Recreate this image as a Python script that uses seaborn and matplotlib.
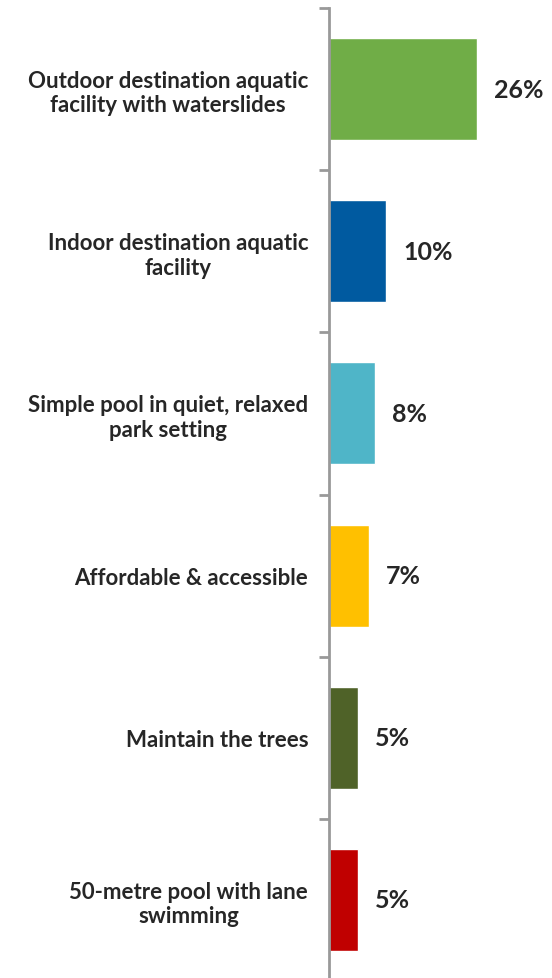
import matplotlib.pyplot as plt
import seaborn as sns
import pandas as pd

categories = [
    "Outdoor destination aquatic\nfacility with waterslides",
    "Indoor destination aquatic\nfacility",
    "Simple pool in quiet, relaxed\npark setting",
    "Affordable & accessible",
    "Maintain the trees",
    "50-metre pool with lane\nswimming",
]
values = [26, 10, 8, 7, 5, 5]
colors = ["#70AD47", "#005AA0", "#4FB5C8", "#FFC000", "#4F6228", "#C00000"]

df = pd.DataFrame({"Category": categories, "Percent": values})

sns.set_style("white")
plt.rcParams["font.family"] = ["Lato", "DejaVu Sans"]

fig = plt.figure(figsize=(5.52, 9.79), dpi=100)
ax = fig.add_axes([329 / 552, -3 / 979, 1 - 329 / 552, 973 / 979])

sns.barplot(data=df, y="Category", x="Percent", hue="Category", palette=colors,
            orient="h", width=0.63, legend=False, ax=ax, saturation=1)

ax.set_xlim(0, (552 - 329) / 5.7)
ax.set_ylim(5.5, -0.5)
ax.set_xlabel("")
ax.set_ylabel("")
ax.set_xticks([])

for s in ["top", "right", "bottom"]:
    ax.spines[s].set_visible(False)
ax.spines["left"].set_color("#999999")
ax.spines["left"].set_linewidth(2)

ax.set_yticks([i - 0.5 for i in range(7)], minor=True)
ax.tick_params(axis="y", which="minor", length=7, width=2, color="#999999", left=True)
ax.tick_params(axis="y", which="major", length=0, pad=15, labelsize=16, labelcolor="#262626")
for lab in ax.get_yticklabels():
    lab.set_fontweight("bold")
    lab.set_multialignment("center")
    lab.set_linespacing(1.2)

for i, v in enumerate(values):
    ax.text(v + 17 / 5.7, i, f"{v}%", va="center", ha="left", fontsize=18,
            fontweight="bold", color="#262626")

fig.savefig("out.png", dpi=100)
